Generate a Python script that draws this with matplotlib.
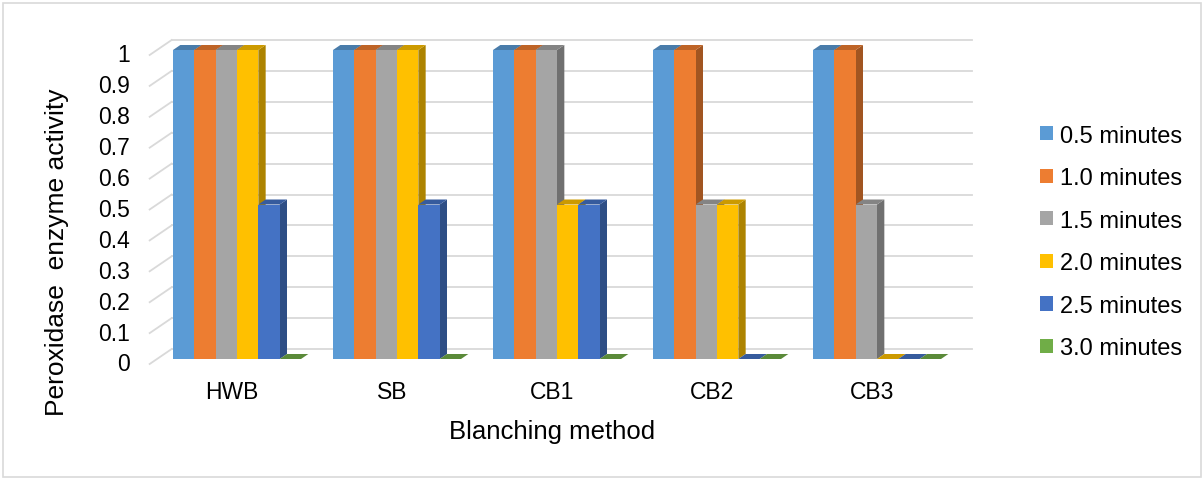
import matplotlib
matplotlib.use("Agg")
import matplotlib.pyplot as plt
import numpy as np
from matplotlib.patches import Polygon, Rectangle

plt.rcParams["font.family"] = ["Liberation Sans", "DejaVu Sans"]

methods = ["HWB", "SB", "CB1", "CB2", "CB3"]
series = ["0.5 minutes", "1.0 minutes", "1.5 minutes", "2.0 minutes", "2.5 minutes", "3.0 minutes"]
activity = {
    "0.5 minutes": [1, 1, 1, 1, 1],
    "1.0 minutes": [1, 1, 1, 1, 1],
    "1.5 minutes": [1, 1, 1, 0.5, 0.5],
    "2.0 minutes": [1, 1, 0.5, 0.5, 0],
    "2.5 minutes": [0.5, 0.5, 0.5, 0, 0],
    "3.0 minutes": [0, 0, 0, 0, 0],
}
colors = ["#5B9BD5", "#ED7D31", "#A5A5A5", "#FFC000", "#4472C4", "#70AD47"]
yticks = np.round(np.arange(0, 1.01, 0.1), 1)

W, H = 1204, 481
fig = plt.figure(figsize=(W / 100, H / 100), dpi=100)
# front plane of the bars, in pixels: x 157..957, y(0)=360, y(1)=51
ax = fig.add_axes([157 / W, (H - 360) / H, 800 / W, 309 / H])
ax.set_xlim(-0.5, 4.5)
ax.set_ylim(0, 1)
ax.axis("off")

# depth vector of the whole plot box, in data units (22 px right, 15 px up)
ddx, ddy = 22 / 160, 15 / 309
grid_c = "#D9D9D9"


def shade(c, f):
    r, g, b = matplotlib.colors.to_rgb(c)
    return (r * f, g * f, b * f)


# back wall and side wall gridlines
for v in yticks:
    xf, yf = -0.5 - ddx / 3, v - ddy / 3
    xb, yb = -0.5 + 2 * ddx / 3, v + 2 * ddy / 3
    ax.plot([xf, xb], [yf, yb], color=grid_c, lw=1.3, clip_on=False, zorder=1)
    ax.plot([xb, 4.5 + 2 * ddx / 3], [yb, yb], color=grid_c, lw=1.3, clip_on=False, zorder=1)
    lbl = "1" if v == 1 else ("0" if v == 0 else f"{v:.1f}")
    ax.text(-0.5 - 27 / 160, yf, lbl, ha="right", va="center", fontsize=16.5, color="#000000")

w = 1 / 7.5
bx, by = ddx / 3, ddy / 3  # bar depth
z = 2
for i in range(len(methods)):
    for j, s in enumerate(series):
        v = activity[s][i]
        c = colors[j]
        x0 = i + (j - 3) * w
        x1 = x0 + w
        side = Polygon([(x1, 0), (x1 + bx, by), (x1 + bx, v + by), (x1, v)],
                       closed=True, facecolor=shade(c, 0.68), edgecolor="none", zorder=z, clip_on=False)
        top = Polygon([(x0, v), (x0 + bx, v + by), (x1 + bx, v + by), (x1, v)],
                      closed=True, facecolor=shade(c, 0.8), edgecolor="none", zorder=z + 1, clip_on=False)
        ax.add_patch(side)
        ax.add_patch(top)
        ax.bar(x0 + w / 2, v, width=w, color=c, linewidth=0, zorder=z + 2, clip_on=False)
        z += 3

for i, m in enumerate(methods):
    ax.text(i - 5 / 160, -33 / 309, m, ha="center", va="center", fontsize=16.5)

fig.text(57 / W, 1 - 252 / H, "Peroxidase  enzyme activity", rotation=90,
         ha="center", va="center", fontsize=19)
fig.text(552 / W, 1 - 432 / H, "Blanching method", ha="center", va="center", fontsize=18.5)

handles = [Rectangle((0, 0), 1, 1, facecolor=c, edgecolor="none") for c in colors]
fig.legend(handles, series, loc="center left", bbox_to_anchor=(1040 / W, 1 - 243 / H),
           frameon=False, fontsize=17, handlelength=0.55, handleheight=0.55,
           handletextpad=0.3, labelspacing=0.87, borderaxespad=0, borderpad=0)

fig.patches.append(Rectangle((3 / W, 3 / H), (W - 6) / W, (H - 7) / H, transform=fig.transFigure,
                             fill=False, edgecolor="#D9D9D9", lw=1.2))

fig.savefig("out.png", dpi=100)
